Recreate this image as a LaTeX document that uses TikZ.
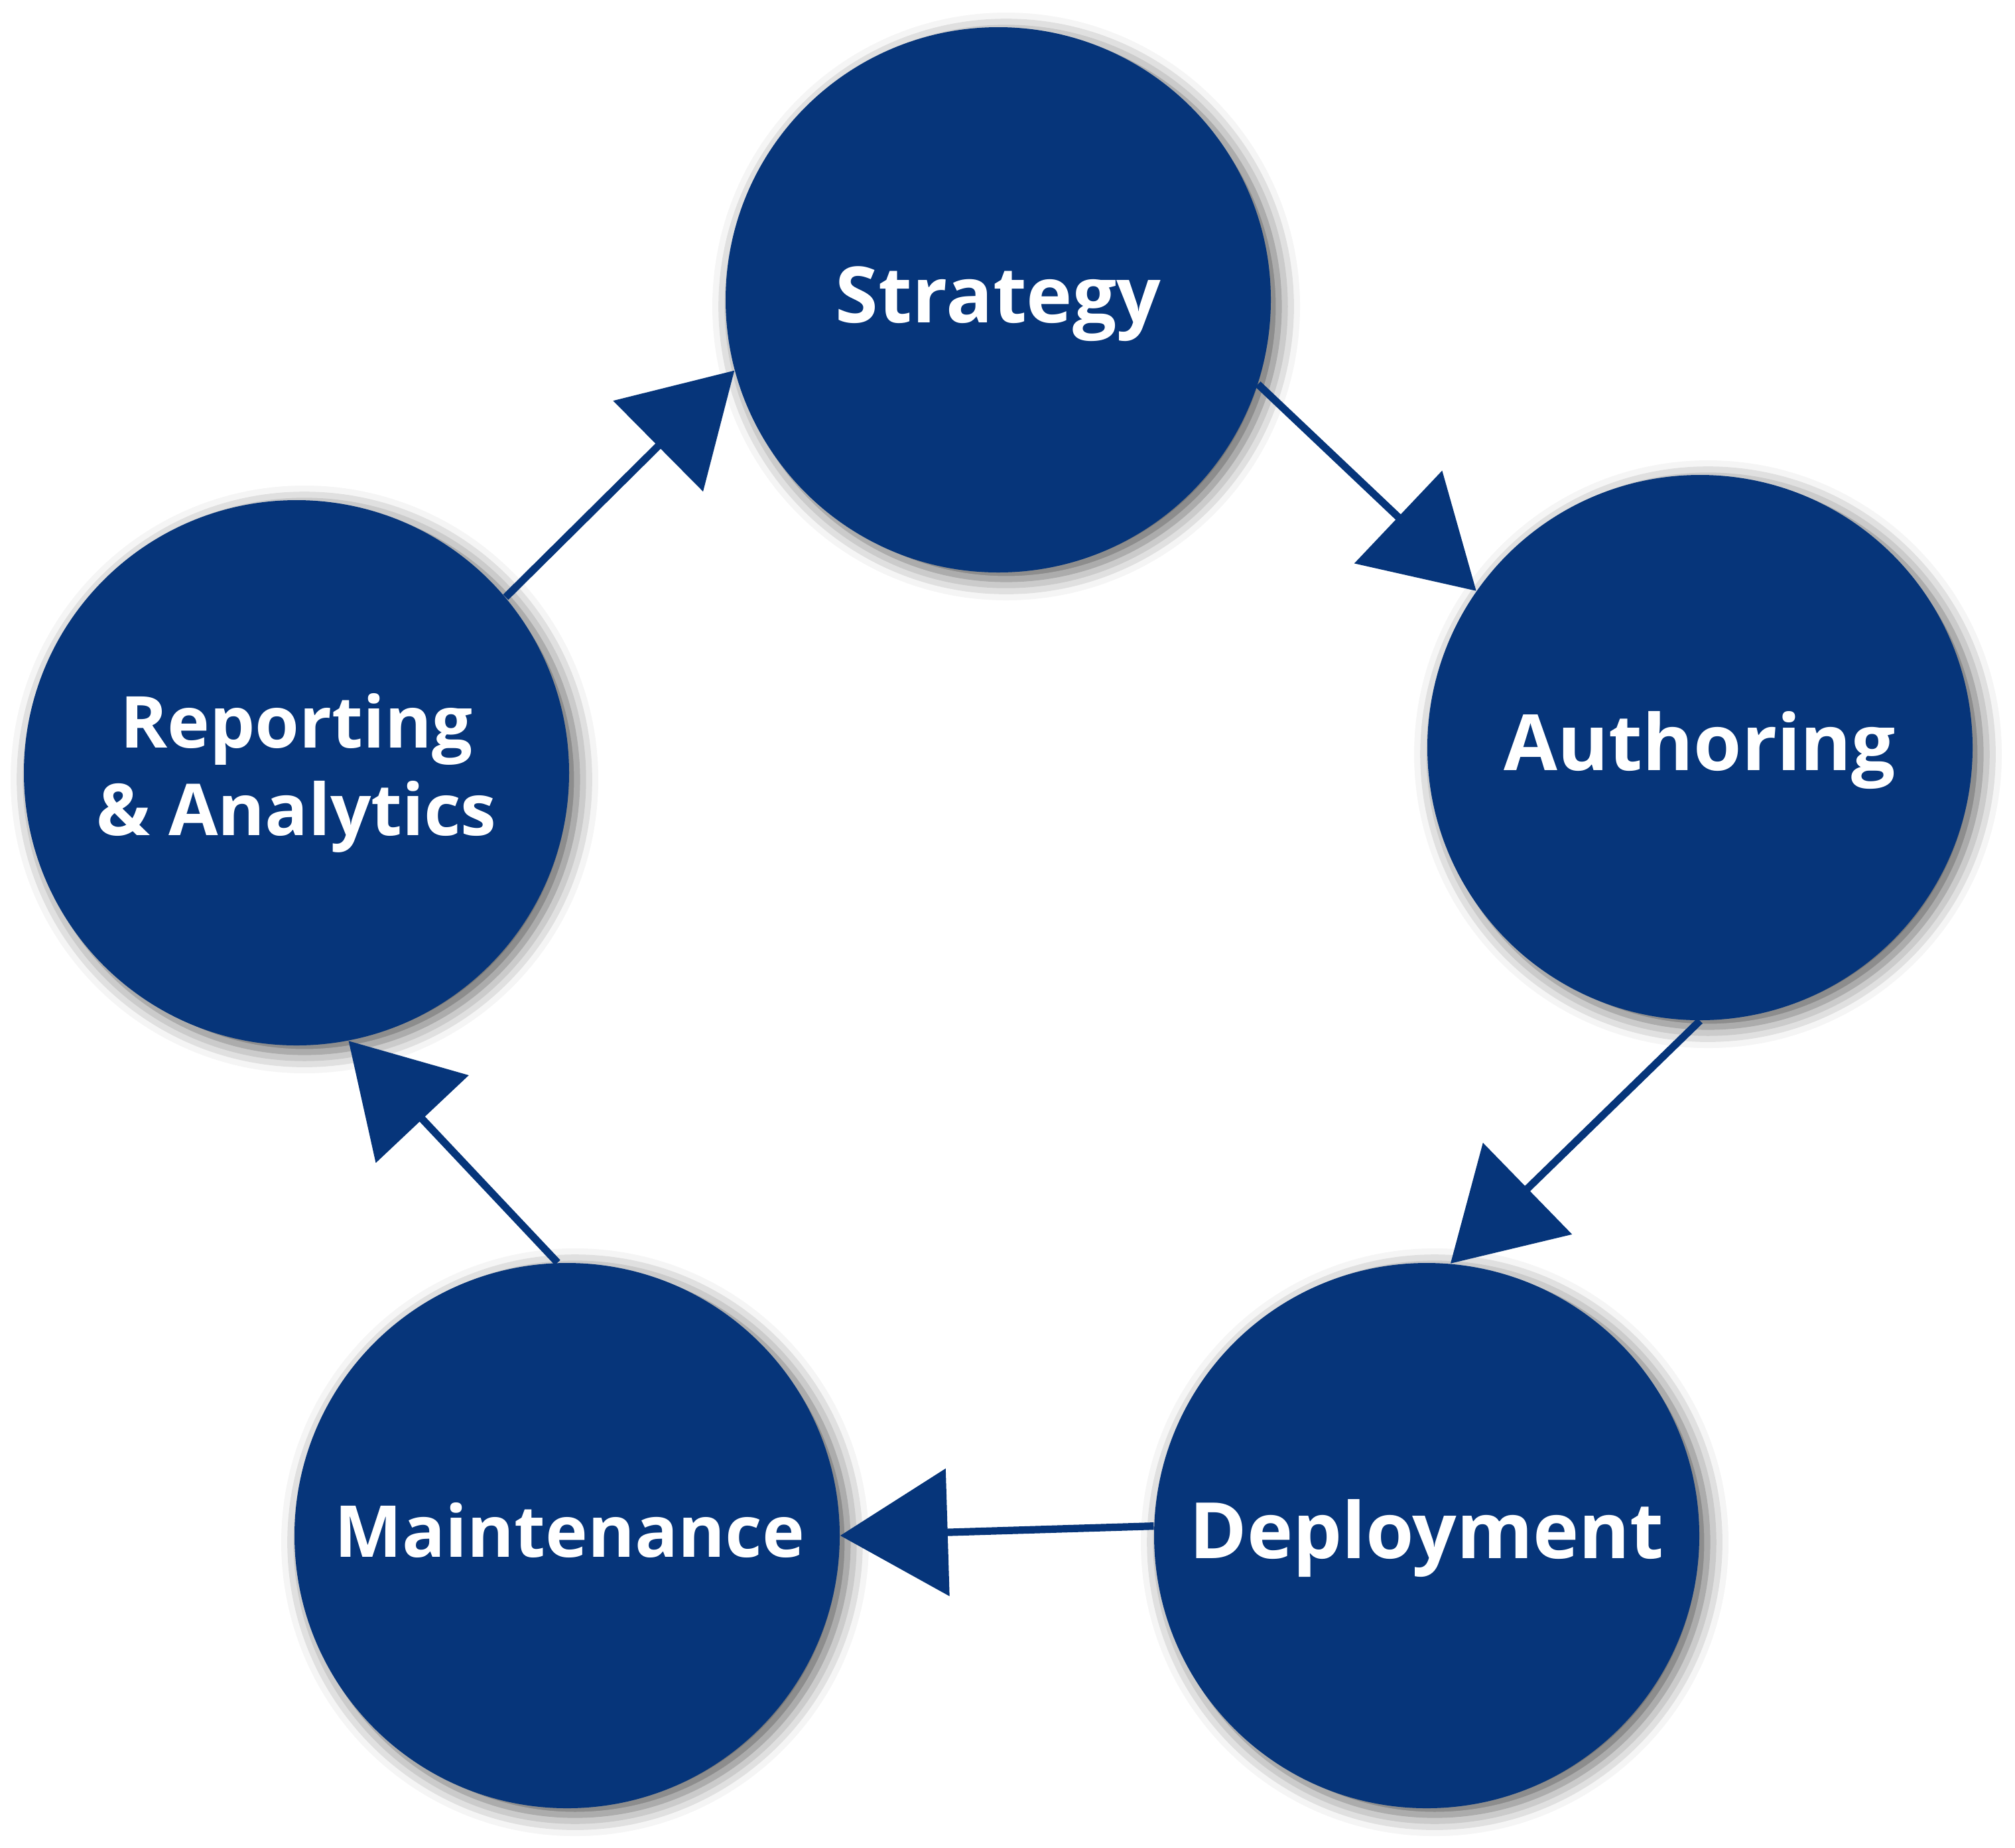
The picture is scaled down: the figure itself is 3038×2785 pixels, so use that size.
\documentclass[tikz,border=0pt]{standalone}
\usepackage{fontspec}
\setmainfont{Open Sans}
\usetikzlibrary{arrows.meta,shadows.blur}
\definecolor{navy}{RGB}{6,53,122}
\tikzset{
  stage/.style={circle, fill=navy, minimum size=205.5pt, inner sep=0pt,
    text=white, font=\fontsize{29.3}{35}\selectfont\bfseries, align=center,
    text height=21pt, text depth=4pt,
    blur shadow={shadow xshift=3pt, shadow yshift=-2.5pt,
      shadow blur radius=8pt, shadow opacity=65}},
  smalltext/.style={font=\fontsize{27}{33}\selectfont\bfseries},
  flow/.style={draw=navy, line width=2.8pt,
    -{Triangle[length=40.5pt,width=47.5pt,fill=navy]}}
}
\begin{document}
\begin{tikzpicture}[x=0.25pt,y=-0.25pt]
\useasboundingbox (0,0) rectangle (3038,2785);
\node[stage] (strat) at (1505,452) {Strategy};
\node[stage] (auth) at (2563,1127) {Authoring};
\node[stage] (depl) at (2151,2315) {Deployment};
\node[stage, smalltext, text height=19.3pt, text depth=3pt] (main) at (855,2315) {\hspace{2pt}Maintenance};
\node[stage, smalltext, text height={}, text depth={}] (rep) at (447,1165) {Reporting\\\& Analytics};
\draw[flow] (strat.-18.5) -- (auth.145.8);
\draw[flow] (auth.-90) -- (depl.85.7);
\draw[flow] (depl.178.7) -- (main.-0.4);
\draw[flow] (main.92.4) -- (rep.-79.7);
\draw[flow] (rep.40.6) -- (strat.195.6);
\end{tikzpicture}
\end{document}
